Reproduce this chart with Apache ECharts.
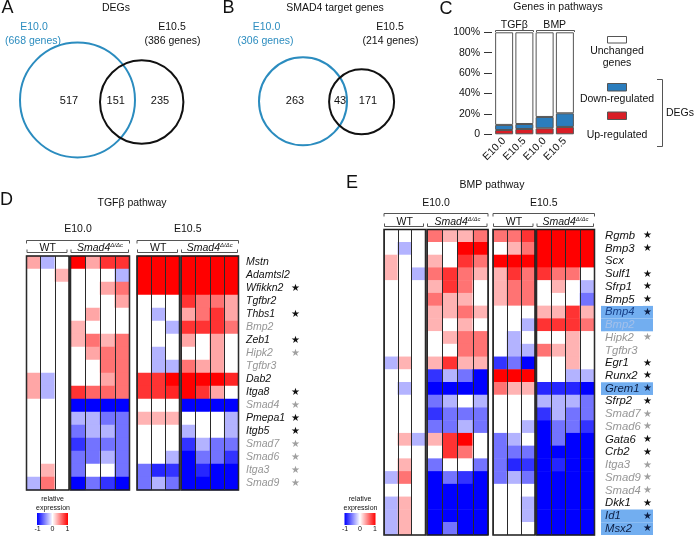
<!DOCTYPE html>
<html><head><meta charset="utf-8">
<script src="https://cdn.jsdelivr.net/npm/echarts@6/dist/echarts.min.js"></script>
<style>html,body{margin:0;padding:0;background:#fff}#c{width:694px;height:538px}</style>
</head><body><div id="c"></div>
<script>
// ---------------- DATA ----------------
// Panel A / B : Venn diagrams
const vennASets = ['E10.0', 'E10.5'];
const vennATotals = [668, 386];
const vennACounts = [517, 151, 235];
const vennBSets = ['E10.0', 'E10.5'];
const vennBTotals = [306, 214];
const vennBCounts = [263, 43, 171];

// Panel C : genes in pathways (% of pathway genes)
const cPathways = ['TGFβ', 'BMP'];
const cStages = ['E10.0', 'E10.5', 'E10.0', 'E10.5'];
const cUp = [4.2, 5.2, 5.9, 7.2];
const cDown = [5.0, 4.9, 11.1, 13.4];
const cUnchanged = [90.8, 89.9, 83.0, 79.4];

// Heatmap samples
const samples = ['WT 1', 'WT 2', 'WT 3', 'Smad4 1', 'Smad4 2', 'Smad4 3', 'Smad4 4'];

// Panel D : TGFβ pathway
const tgfGenes = ['Mstn','Adamtsl2','Wfikkn2','Tgfbr2','Thbs1','Bmp2','Zeb1','Hipk2','Tgfbr3','Dab2','Itga8','Smad4','Pmepa1','Itgb5','Smad7','Smad6','Itga3','Smad9'];
const tgfStar = [0,0,1,0,1,0,1,1,0,0,1,1,1,1,1,1,1,1];
const tgfGray = [0,0,0,0,0,1,0,1,1,0,0,1,0,0,1,1,1,1];
const tgfE100 = [
  [0.35,-0.3,0, 1,0.35,0.8,0.8],
  [0,0,0.3, 0,0,0,-0.3],
  [0,0,0, 0,0,0.35,0.55],
  [0,0,0, 0,0,0,0.35],
  [0,0,0, 0,0.35,0,0],
  [0,0,0, 0.3,0,0,0],
  [0,0,0, 0.3,0.55,0.3,0.55],
  [0,0,0, 0,0.35,0.55,0.55],
  [0,0,0, 0,0,0.55,0.55],
  [0.35,-0.3,0, 0,0,0.35,0.55],
  [0.35,-0.3,0, 0.8,0.6,0.6,0.55],
  [0,0,0, -1,-1,-1,-1],
  [0,0,0, -0.3,-0.3,-0.55,-0.55],
  [0,0,0, -0.55,-0.3,-0.3,-0.55],
  [0,0,0, -0.8,-0.55,-0.55,-0.55],
  [0,0,0, -0.55,-0.55,-0.3,-0.55],
  [0,0.3,0, -0.55,0,0,-0.55],
  [-0.3,0.55,0, -1,-0.55,-0.8,-1]
];
const tgfE105 = [
  [1,1,1, 1,1,1,1],
  [1,1,1, 1,1,1,1],
  [1,1,1, 1,1,1,1],
  [0,0,0, 0.8,0.55,0.55,0.35],
  [0,-0.3,0, 0.35,0.55,0.8,0.35],
  [0,0,-0.3, 0.8,0.8,0.8,0.55],
  [0,0,0, 0.35,0,0.35,0],
  [0,-0.3,0, 0,0,0.35,0],
  [0,-0.3,-0.3, 0.55,0.35,0.35,0],
  [0.8,0.8,1, 1,1,1,0.85],
  [0.8,0.8,0.85, 1,0.8,0.35,0],
  [0,0,0, -1,-1,-1,-1],
  [0.3,0.3,0.3, 0,0,0,-0.3],
  [0,0,0, -0.3,0,0,-0.3],
  [0,0,0, -0.8,-0.3,-0.55,-0.55],
  [0,0,-0.3, -1,-0.55,-0.55,-0.8],
  [-0.55,-0.85,-0.8, -1,-0.85,-1,-1],
  [-0.55,-0.3,-0.55, -1,-1,-1,-1]
];

// Panel E : BMP pathway
const bmpGenes = ['Rgmb','Bmp3','Scx','Sulf1','Sfrp1','Bmp5','Bmp4','Bmp2','Hipk2','Tgfbr3','Egr1','Runx2','Grem1','Sfrp2','Smad7','Smad6','Gata6','Crb2','Itga3','Smad9','Smad4','Dkk1','Id1','Msx2'];
const bmpStar = [1,1,0,1,1,1,1,0,1,0,1,1,1,1,1,1,1,1,1,1,1,1,1,1];
const bmpGray = [0,0,0,0,0,0,0,1,1,1,0,0,0,0,1,1,0,0,1,1,1,0,0,0];
const bmpHighlight = [0,0,0,0,0,0,1,1,0,0,0,0,1,0,0,0,0,0,0,0,0,0,1,1];
const bmpE100 = [
  [0,0,0, 0.55,0.3,0.3,0.55],
  [0,-0.3,0, 0,0,1,1],
  [0.3,0,0, 0.3,0,0.8,0.55],
  [0.3,0,-0.3, 0.55,0.8,0.55,0.3],
  [0,0,0, 0.3,0.8,0.55,0],
  [0,0,0, 0.55,0.3,0.3,0],
  [0,0,0, 0.3,0.3,0.55,0.3],
  [0,0,0, 0.3,0,0.3,0],
  [0,0,0, 0,0.3,0.55,0.55],
  [0,0,0, 0,0,0.55,0.55],
  [-0.3,0.3,0, 0.3,0.8,0.3,0.3],
  [0,0,0, -0.8,-0.3,-0.55,-1],
  [0,-0.3,0, -1,-1,-1,-1],
  [0,0,0, -0.55,-0.3,0,-0.3],
  [0,0,0, -0.8,-0.55,-0.55,-0.55],
  [0,0,0, -0.55,-0.55,-0.3,-0.55],
  [0,0.3,-0.3, 0.3,0.8,1,0],
  [0,0,0, 0,0.8,0.55,0],
  [0,0.3,0, -0.55,0,0,-0.55],
  [-0.3,0.55,0, -1,-0.55,-0.8,-1],
  [0,0,0, -1,-1,-1,-1],
  [-0.3,0.3,0, -1,-1,-1,-1],
  [-0.3,0.3,0, -1,-1,-1,-1],
  [-0.3,0.3,0, -1,-0.55,-1,-1]
];
const bmpE105 = [
  [0.55,0.55,0.8, 1,1,1,1],
  [0,0.3,0.55, 1,1,1,1],
  [1,1,1, 1,1,1,1],
  [0.3,0.8,0.55, 0.8,0.55,0.55,0],
  [0.3,0.55,0.55, 0,0.3,0,-0.3],
  [0.3,0.55,0.55, 0,0,0,-0.55],
  [0,0,0, 0.3,0.3,0.8,0.3],
  [0,0,-0.3, 0.8,0.8,0.8,0.55],
  [0,-0.3,0, 0,0,0.3,0],
  [0,-0.3,-0.3, 0.55,0.3,0.3,0],
  [-0.8,-0.55,-1, 0,0,0.3,0],
  [1,1,1, 0,0,-0.3,-0.3],
  [0.55,0.3,0.3, -0.85,-0.85,-0.85,-1],
  [0,0,0, -0.3,-0.3,-0.3,-0.55],
  [0,0,0, -0.8,-0.3,-0.55,-0.55],
  [0,0,-0.3, -1,-0.55,-0.55,-0.8],
  [-0.55,-0.3,0, -1,-0.55,-1,-1],
  [-0.55,-0.55,-0.55, -1,-1,-1,-1],
  [-0.55,-0.85,-0.8, -1,-0.85,-1,-1],
  [-0.55,-0.3,-0.55, -1,-1,-1,-1],
  [0,0,0, -1,-1,-1,-1],
  [0,0,-0.3, -1,-1,-1,-1],
  [0,0,-0.3, -1,-1,-1,-1],
  [0,0,0, -1,-1,-1,-1]
];

// ---------------- STYLE / LAYOUT ----------------
const FONT = '"Liberation Sans", Arial, Helvetica, sans-serif';
const BLUE_V = '#2b8cbf';
const RED_BAR = '#d91e26';
const BLUE_BAR = '#2b7dbd';
const INK = '#111';
const GRAY = '#969696';

function T(x, y, text, o) {
  return {type: 'text', x: x, y: y, silent: true, z: 50,
    style: Object.assign({text: String(text), fill: INK, fontSize: 10.5, fontFamily: FONT,
      align: 'center', verticalAlign: 'middle'}, o || {})};
}
function PL(points, o) {
  return {type: 'polyline', silent: true, z: 50, shape: {points: points},
    style: Object.assign({stroke: '#555', lineWidth: 1, fill: null}, o || {})};
}
function topBracket(x1, x2, y) { return PL([[x1, y + 3], [x1, y], [x2, y], [x2, y + 3]]); }
function botBracket(x1, x2, y) { return PL([[x1, y - 3], [x1, y], [x2, y], [x2, y - 3]]); }

const graphic = [];
// panel letters
[['A', 7.5, 8], ['B', 228.5, 8], ['C', 446, 9], ['D', 6.5, 200], ['E', 352, 183]].forEach(function (p) {
  graphic.push(T(p[1], p[2], p[0], {fontSize: 18}));
});
// titles
graphic.push(T(116, 8, 'DEGs'));
graphic.push(T(335, 8, 'SMAD4 target genes'));
graphic.push(T(558, 7, 'Genes in pathways'));
graphic.push(T(132, 203, 'TGFβ pathway'));
graphic.push(T(492, 185, 'BMP pathway'));

// Venn diagrams (layout)
function venn(sets, totals, counts, L) {
  graphic.push({type: 'circle', silent: true, z: 20, shape: {cx: L.c1[0], cy: L.c1[1], r: L.r1},
    style: {fill: null, stroke: BLUE_V, lineWidth: 2}});
  graphic.push({type: 'circle', silent: true, z: 21, shape: {cx: L.c2[0], cy: L.c2[1], r: L.r2},
    style: {fill: null, stroke: '#111', lineWidth: 2}});
  graphic.push(T(L.t1[0], 27, sets[0], {fill: BLUE_V}));
  graphic.push(T(L.t1[0] - 1, 41, '(' + totals[0] + ' genes)', {fill: BLUE_V}));
  graphic.push(T(L.t2[0], 27, sets[1]));
  graphic.push(T(L.t2[0] + 0.5, 41, '(' + totals[1] + ' genes)'));
  counts.forEach(function (c, i) { graphic.push(T(L.n[i], 101, c, {fontSize: 11})); });
}
venn(vennASets, vennATotals, vennACounts, {c1: [77.5, 100], r1: 57.5, c2: [141.7, 102], r2: 41.7,
  t1: [34], t2: [172], n: [69, 115.7, 160]});
venn(vennBSets, vennBTotals, vennBCounts, {c1: [303, 101.3], r1: 44, c2: [361.6, 101.7], r2: 32.5,
  t1: [266.5], t2: [390], n: [295, 340, 368]});

// Panel C header lines and legend
graphic.push(PL([[495.5, 32], [495.5, 30.5], [533.5, 30.5], [533.5, 32]]));
graphic.push(PL([[536.5, 32], [536.5, 30.5], [574.5, 30.5], [574.5, 32]]));
graphic.push({type: 'rect', silent: true, z: 50, shape: {x: 607.5, y: 36.5, width: 19, height: 6.5}, style: {fill: '#fff', stroke: '#555', lineWidth: 1}});
graphic.push({type: 'rect', silent: true, z: 50, shape: {x: 607.5, y: 83.5, width: 19, height: 7.5}, style: {fill: BLUE_BAR, stroke: '#555', lineWidth: 1}});
graphic.push({type: 'rect', silent: true, z: 50, shape: {x: 607.5, y: 112, width: 19, height: 7.5}, style: {fill: RED_BAR, stroke: '#555', lineWidth: 1}});
graphic.push(T(617, 51, 'Unchanged'));
graphic.push(T(617, 63, 'genes'));
graphic.push(T(617, 99, 'Down-regulated'));
graphic.push(T(617, 135, 'Up-regulated'));
graphic.push(PL([[657, 79.5], [662.5, 79.5], [662.5, 146.5], [657, 146.5]]));
graphic.push(T(666, 113, 'DEGs', {align: 'left'}));

// ---------------- HEATMAP GRIDS ----------------
const D_TOP = 256, D_H = 234, E_TOP = 229.5, E_H = 305.5;
const hmBlocks = [
  {x1: 26.5, x2: 69, top: D_TOP, h: D_H, mat: tgfE100, c0: 0, c1: 3, genes: tgfGenes},
  {x1: 70.5, x2: 129.5, top: D_TOP, h: D_H, mat: tgfE100, c0: 3, c1: 7, genes: tgfGenes},
  {x1: 137, x2: 179.5, top: D_TOP, h: D_H, mat: tgfE105, c0: 0, c1: 3, genes: tgfGenes},
  {x1: 181, x2: 238.5, top: D_TOP, h: D_H, mat: tgfE105, c0: 3, c1: 7, genes: tgfGenes, labels: 'tgf'},
  {x1: 384, x2: 425.5, top: E_TOP, h: E_H, mat: bmpE100, c0: 0, c1: 3, genes: bmpGenes},
  {x1: 427, x2: 488, top: E_TOP, h: E_H, mat: bmpE100, c0: 3, c1: 7, genes: bmpGenes},
  {x1: 493, x2: 535, top: E_TOP, h: E_H, mat: bmpE105, c0: 0, c1: 3, genes: bmpGenes},
  {x1: 536.5, x2: 594.5, top: E_TOP, h: E_H, mat: bmpE105, c0: 3, c1: 7, genes: bmpGenes, labels: 'bmp'}
];

// headers above heatmaps
function headers(b0, b1, b2, b3, yStage, yBr, yGen, yUnder) {
  [[b0, b1, 'E10.0'], [b2, b3, 'E10.5']].forEach(function (p) {
    const a = p[0], b = p[1];
    graphic.push(T((a.x1 + b.x2) / 2, yStage, p[2]));
    graphic.push(topBracket(a.x1, b.x2, yBr));
    graphic.push(T((a.x1 + a.x2) / 2, yGen, 'WT'));
    graphic.push(T((b.x1 + b.x2) / 2, yGen, '{i|Smad4}{s|Δ/Δc}', {
      rich: {i: {fontStyle: 'italic', fontSize: 10.5, fontFamily: FONT, fill: INK, lineHeight: 12, verticalAlign: 'bottom'},
             s: {fontStyle: 'italic', fontSize: 6, fontFamily: FONT, fill: INK, lineHeight: 12, verticalAlign: 'top'}}}));
    graphic.push(botBracket(a.x1 + 0.5, a.x2 - 2, yUnder));
    graphic.push(botBracket(b.x1 + 0.5, b.x2 - 1, yUnder));
  });
}
headers(hmBlocks[0], hmBlocks[1], hmBlocks[2], hmBlocks[3], 229, 240.5, 248, 252.5);
headers(hmBlocks[4], hmBlocks[5], hmBlocks[6], hmBlocks[7], 203, 213.5, 222, 226.5);

// colour bars
function colorbar(cx) {
  graphic.push(T(cx, 499, 'relative', {fontSize: 7}));
  graphic.push(T(cx + 0.5, 508, 'expression', {fontSize: 7}));
  graphic.push({type: 'rect', silent: true, z: 50, shape: {x: cx - 15.5, y: 513, width: 31, height: 12},
    style: {fill: new echarts.graphic.LinearGradient(0, 0, 1, 0, [
      {offset: 0, color: '#0000ff'}, {offset: 0.5, color: '#ffffff'}, {offset: 1, color: '#ff0000'}])}});
  graphic.push(T(cx - 15, 529, '-1', {fontSize: 7}));
  graphic.push(T(cx, 529, '0', {fontSize: 7}));
  graphic.push(T(cx + 15, 529, '1', {fontSize: 7}));
}
colorbar(52.5);
colorbar(360);

// label rich styles
const richTgf = {
  gk: {fontStyle: 'italic', fontSize: 10.5, fontFamily: FONT, color: INK, width: 45},
  gg: {fontStyle: 'italic', fontSize: 10.5, fontFamily: FONT, color: GRAY, width: 45},
  sk: {fontSize: 10, fontFamily: '"DejaVu Sans"', color: INK},
  sg: {fontSize: 10, fontFamily: '"DejaVu Sans"', color: '#a0a0a0'}
};
const HL = '#72aef0';
const RH = 12.7;
const richBmp = {};
function mk(name, color, bg, isStar, w) {
  richBmp[name] = {fontStyle: isStar ? 'normal' : 'italic', fontSize: isStar ? 10 : 11.3,
    fontFamily: isStar ? '"DejaVu Sans"' : FONT, color: color, width: w, height: RH, lineHeight: RH,
    backgroundColor: bg || 'transparent'};
}
mk('pn', INK, null, false, 4); mk('ph', INK, HL, false, 4);
mk('gk', INK, null, false, 38); mk('gg', GRAY, null, false, 38);
mk('hk', '#0d1f45', HL, false, 38); mk('hb', '#163f88', HL, false, 38); mk('hg', '#a3c0ea', HL, false, 38);
mk('sk', INK, null, true, 10); mk('sg', '#a0a0a0', null, true, 10);
mk('hs', '#0d1f45', HL, true, 10); mk('he', INK, HL, true, 10);

function tgfLabel(v, i) {
  const g = tgfGray[i] ? 'g' : 'k';
  return '{g' + g + '|' + v + '}' + (tgfStar[i] ? '{s' + g + '|★}' : '');
}
function bmpLabel(v, i) {
  if (bmpHighlight[i]) {
    const txt = bmpGray[i] ? 'hg' : (v === 'Bmp4' ? 'hb' : 'hk');
    return '{ph| }{' + txt + '|' + v + '}' + (bmpStar[i] ? '{hs|★}' : '{he| }');
  }
  const g = bmpGray[i] ? 'g' : 'k';
  return '{pn| }{g' + g + '|' + v + '}' + (bmpStar[i] ? '{s' + g + '|★}' : '');
}

const grids = [], xAxes = [], yAxes = [], series = [];
hmBlocks.forEach(function (b, k) {
  grids.push({left: b.x1, top: b.top, width: b.x2 - b.x1, height: b.h, show: true,
    borderColor: '#1a1a1a', borderWidth: 1.5, backgroundColor: 'transparent', z: 10, containLabel: false});
  xAxes.push({type: 'category', gridIndex: k, data: samples.slice(b.c0, b.c1), show: true, z: 10,
    axisLine: {show: false}, axisTick: {show: false}, axisLabel: {show: false},
    splitLine: {show: true, interval: 0, lineStyle: {color: '#2a2a2a', width: 1}}});
  const y = {type: 'category', gridIndex: k, data: b.genes, inverse: true, z: 10,
    axisLine: {show: false}, axisTick: {show: false}, splitLine: {show: false}, axisLabel: {show: false}};
  if (b.labels === 'tgf') {
    y.position = 'right';
    y.axisLabel = {show: true, interval: 0, margin: 7.5, align: 'left', formatter: tgfLabel, rich: richTgf};
  } else if (b.labels === 'bmp') {
    y.position = 'right';
    y.axisLabel = {show: true, interval: 0, margin: 6.5, align: 'left', formatter: bmpLabel, rich: richBmp};
  }
  yAxes.push(y);
  const data = [];
  b.mat.forEach(function (row, r) {
    for (let c = b.c0; c < b.c1; c++) data.push([c - b.c0, r, row[c]]);
  });
  series.push({type: 'heatmap', xAxisIndex: k, yAxisIndex: k, data: data, silent: true,
    itemStyle: {borderWidth: 0}, emphasis: {disabled: true}, progressive: 0, animation: false});
});

// ---------------- PANEL C ----------------
const cg = grids.length;
grids.push({left: 494, top: 32.3, width: 81, height: 102, show: false, containLabel: false});
xAxes.push({type: 'category', gridIndex: cg, data: [0, 1, 2, 3], position: 'bottom',
  axisLine: {show: false}, axisTick: {show: false},
  axisLabel: {interval: 0, rotate: 45, margin: 5, fontSize: 10.5, fontFamily: FONT, color: INK,
    formatter: function (v, i) { return cStages[i]; }}});
xAxes.push({type: 'category', gridIndex: cg, data: cPathways, position: 'top',
  axisLine: {show: false}, axisTick: {show: false},
  axisLabel: {interval: 0, margin: 1.5, fontSize: 10.5, fontFamily: FONT, color: INK}});
yAxes.push({type: 'value', gridIndex: cg, min: 0, max: 100, interval: 20, offset: 2,
  axisLine: {show: false}, axisTick: {show: true, length: 8, lineStyle: {color: '#333'}},
  splitLine: {show: false},
  axisLabel: {margin: 12, fontSize: 10.5, fontFamily: FONT, color: INK,
    formatter: function (v) { return v === 0 ? '0' : v + '%'; }}});
const cx = xAxes.length - 2, cy = yAxes.length - 1;
[[cUp, RED_BAR, 'Up-regulated'], [cDown, BLUE_BAR, 'Down-regulated'], [cUnchanged, '#ffffff', 'Unchanged genes']].forEach(function (s) {
  series.push({type: 'bar', name: s[2], xAxisIndex: cx, yAxisIndex: cy, stack: 'p', data: s[0], barWidth: 18,
    itemStyle: {color: s[1], borderColor: '#555', borderWidth: 1}, silent: true, animation: false});
});

const chart = echarts.init(document.getElementById('c'), null, {renderer: 'canvas'});
chart.setOption({
  animation: false,
  backgroundColor: '#ffffff',
  textStyle: {fontFamily: FONT},
  grid: grids, xAxis: xAxes, yAxis: yAxes, series: series,
  visualMap: {type: 'continuous', min: -1, max: 1, show: false, seriesIndex: [0, 1, 2, 3, 4, 5, 6, 7],
    inRange: {color: ['#0000ff', '#ffffff', '#ff0000']}},
  graphic: graphic
});
</script>
</body></html>
